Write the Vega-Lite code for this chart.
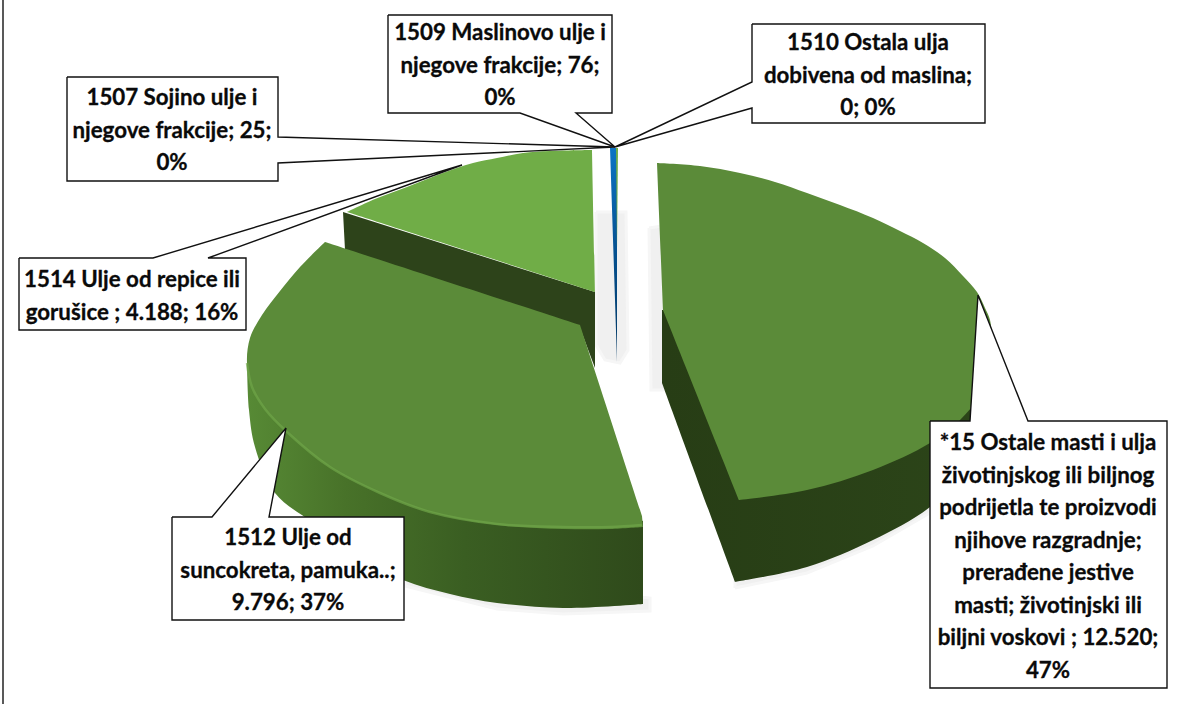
{
"$schema":"https://vega.github.io/schema/vega-lite/v6.json",
"width":1204,"height":704,"padding":0,
"autosize":{"type":"none"},
"background":"white",
"config":{"view":{"stroke":null},"axis":{"grid":false}},
"datasets":{
"outlines":[
{"s":"frame","n":1,"x":3,"y":0},{"s":"frame","n":2,"x":3,"y":704},

{"s":"shadow","n":1,"x":596,"y":212},{"s":"shadow","n":2,"x":626,"y":212},{"s":"shadow","n":3,"x":628,"y":350},{"s":"shadow","n":4,"x":620,"y":363},{"s":"shadow","n":5,"x":605,"y":360},{"s":"shadow","n":6,"x":596,"y":345},
{"s":"shadow","n":7,"x":596,"y":212},
{"s":"shadow2","n":1,"x":649,"y":228},{"s":"shadow2","n":2,"x":662,"y":226},{"s":"shadow2","n":3,"x":665,"y":390},{"s":"shadow2","n":4,"x":651,"y":390},{"s":"shadow2","n":5,"x":649,"y":228},
{"s":"shadow3","n":1,"x":735,"y":588},{"s":"shadow3","n":2,"x":807,"y":573},{"s":"shadow3","n":3,"x":873,"y":546},{"s":"shadow3","n":4,"x":930,"y":513},{"s":"shadow3","n":5,"x":930,"y":500},{"s":"shadow3","n":6,"x":735,"y":570},{"s":"shadow3","n":7,"x":735,"y":588},
{"s":"shadow4","n":1,"x":405,"y":586},{"s":"shadow4","n":2,"x":497,"y":609},{"s":"shadow4","n":3,"x":563,"y":614},{"s":"shadow4","n":4,"x":650,"y":611},{"s":"shadow4","n":5,"x":650,"y":598},{"s":"shadow4","n":6,"x":405,"y":570},{"s":"shadow4","n":7,"x":405,"y":586},

{"s":"smallSide","n":1,"x":343,"y":212},{"s":"smallSide","n":2,"x":345,"y":250},{"s":"smallSide","n":3,"x":580,"y":328},{"s":"smallSide","n":4,"x":595,"y":368},{"s":"smallSide","n":5,"x":595,"y":292},{"s":"smallSide","n":6,"x":343,"y":212},

{"s":"smallTop","n":1,"x":592,"y":150},{"s":"smallTop","n":2,"x":592,"y":150},{"s":"smallTop","n":3,"x":550,"y":151},{"s":"smallTop","n":4,"x":523,"y":153},{"s":"smallTop","n":5,"x":497,"y":158},{"s":"smallTop","n":6,"x":473,"y":163},{"s":"smallTop","n":7,"x":440,"y":174},{"s":"smallTop","n":8,"x":407,"y":187},{"s":"smallTop","n":9,"x":375,"y":199},{"s":"smallTop","n":10,"x":347,"y":212},{"s":"smallTop","n":11,"x":347,"y":212},{"s":"smallTop","n":12,"x":595,"y":292},{"s":"smallTop","n":13,"x":595,"y":292},{"s":"smallTop","n":14,"x":592,"y":150},{"s":"smallTop","n":15,"x":592,"y":150},

{"s":"sliver","n":1,"x":610,"y":148},{"s":"sliver","n":2,"x":617,"y":148},{"s":"sliver","n":3,"x":617,"y":362},{"s":"sliver","n":4,"x":615,"y":300},{"s":"sliver","n":5,"x":610,"y":148},
{"s":"sliverGreen","n":1,"x":616,"y":148},{"s":"sliverGreen","n":2,"x":618,"y":148},{"s":"sliverGreen","n":3,"x":617,"y":250},{"s":"sliverGreen","n":4,"x":616,"y":148},

{"s":"midSide","n":1,"x":247,"y":360},{"s":"midSide","n":2,"x":247,"y":360},{"s":"midSide","n":3,"x":249,"y":410},{"s":"midSide","n":4,"x":255,"y":447},{"s":"midSide","n":5,"x":275,"y":493},{"s":"midSide","n":6,"x":313,"y":523},{"s":"midSide","n":7,"x":355,"y":555},{"s":"midSide","n":8,"x":403,"y":580},{"s":"midSide","n":9,"x":450,"y":594},{"s":"midSide","n":10,"x":497,"y":603},{"s":"midSide","n":11,"x":563,"y":608},{"s":"midSide","n":12,"x":643,"y":604},{"s":"midSide","n":13,"x":643,"y":604},{"s":"midSide","n":14,"x":643,"y":521},{"s":"midSide","n":15,"x":643,"y":521},{"s":"midSide","n":16,"x":247,"y":360},{"s":"midSide","n":17,"x":247,"y":360},

{"s":"midTop","n":1,"x":325,"y":242},{"s":"midTop","n":2,"x":325,"y":242},{"s":"midTop","n":3,"x":300,"y":267},{"s":"midTop","n":4,"x":280,"y":291},{"s":"midTop","n":5,"x":262,"y":315},{"s":"midTop","n":6,"x":250,"y":338},{"s":"midTop","n":7,"x":247,"y":363},{"s":"midTop","n":8,"x":252,"y":387},{"s":"midTop","n":9,"x":265,"y":409},{"s":"midTop","n":10,"x":287,"y":432},{"s":"midTop","n":11,"x":330,"y":467},{"s":"midTop","n":12,"x":380,"y":493},{"s":"midTop","n":13,"x":430,"y":512},{"s":"midTop","n":14,"x":497,"y":525},{"s":"midTop","n":15,"x":563,"y":529},{"s":"midTop","n":16,"x":610,"y":529},{"s":"midTop","n":17,"x":643,"y":527},{"s":"midTop","n":18,"x":643,"y":527},{"s":"midTop","n":19,"x":642,"y":516},{"s":"midTop","n":20,"x":642,"y":516},{"s":"midTop","n":21,"x":580,"y":325},{"s":"midTop","n":22,"x":580,"y":325},{"s":"midTop","n":23,"x":325,"y":242},{"s":"midTop","n":24,"x":325,"y":242},

{"s":"midEdge","n":1,"x":247,"y":363},{"s":"midEdge","n":2,"x":252,"y":387},{"s":"midEdge","n":3,"x":265,"y":409},{"s":"midEdge","n":4,"x":287,"y":432},{"s":"midEdge","n":5,"x":330,"y":467},{"s":"midEdge","n":6,"x":380,"y":493},{"s":"midEdge","n":7,"x":430,"y":512},{"s":"midEdge","n":8,"x":497,"y":524},{"s":"midEdge","n":9,"x":563,"y":527},{"s":"midEdge","n":10,"x":610,"y":527},{"s":"midEdge","n":11,"x":642,"y":525},

{"s":"rightSide","n":1,"x":662,"y":310},{"s":"rightSide","n":2,"x":662,"y":310},{"s":"rightSide","n":3,"x":662,"y":383},{"s":"rightSide","n":4,"x":662,"y":383},{"s":"rightSide","n":5,"x":735,"y":582},{"s":"rightSide","n":6,"x":735,"y":582},{"s":"rightSide","n":7,"x":807,"y":567},{"s":"rightSide","n":8,"x":873,"y":540},{"s":"rightSide","n":9,"x":930,"y":507},{"s":"rightSide","n":10,"x":975,"y":460},{"s":"rightSide","n":11,"x":992,"y":420},{"s":"rightSide","n":12,"x":992,"y":345},{"s":"rightSide","n":13,"x":992,"y":345},{"s":"rightSide","n":14,"x":662,"y":310},{"s":"rightSide","n":15,"x":662,"y":310},

{"s":"rightTop","n":1,"x":657,"y":163},{"s":"rightTop","n":2,"x":657,"y":163},{"s":"rightTop","n":3,"x":700,"y":166},{"s":"rightTop","n":4,"x":740,"y":173},{"s":"rightTop","n":5,"x":775,"y":182},{"s":"rightTop","n":6,"x":807,"y":193},{"s":"rightTop","n":7,"x":840,"y":205},{"s":"rightTop","n":8,"x":873,"y":218},{"s":"rightTop","n":9,"x":900,"y":231},{"s":"rightTop","n":10,"x":923,"y":243},{"s":"rightTop","n":11,"x":945,"y":258},{"s":"rightTop","n":12,"x":963,"y":276},{"s":"rightTop","n":13,"x":977,"y":292},{"s":"rightTop","n":14,"x":985,"y":308},{"s":"rightTop","n":15,"x":990,"y":320},{"s":"rightTop","n":16,"x":992,"y":345},{"s":"rightTop","n":17,"x":990,"y":370},{"s":"rightTop","n":18,"x":980,"y":395},{"s":"rightTop","n":19,"x":960,"y":420},{"s":"rightTop","n":20,"x":930,"y":443},{"s":"rightTop","n":21,"x":873,"y":470},{"s":"rightTop","n":22,"x":807,"y":490},{"s":"rightTop","n":23,"x":739,"y":500},{"s":"rightTop","n":24,"x":739,"y":500},{"s":"rightTop","n":25,"x":663,"y":310},{"s":"rightTop","n":26,"x":663,"y":310},{"s":"rightTop","n":27,"x":657,"y":163},{"s":"rightTop","n":28,"x":657,"y":163},

{"s":"c1507","n":1,"x":67,"y":77},{"s":"c1507","n":2,"x":278,"y":77},{"s":"c1507","n":3,"x":278,"y":137},{"s":"c1507","n":4,"x":615,"y":147},{"s":"c1507","n":5,"x":278,"y":163},{"s":"c1507","n":6,"x":278,"y":181},{"s":"c1507","n":7,"x":67,"y":181},{"s":"c1507","n":8,"x":67,"y":77},
{"s":"c1514","n":1,"x":19,"y":258},{"s":"c1514","n":2,"x":153,"y":258},{"s":"c1514","n":3,"x":462,"y":165},{"s":"c1514","n":4,"x":208,"y":258},{"s":"c1514","n":5,"x":246,"y":258},{"s":"c1514","n":6,"x":246,"y":330},{"s":"c1514","n":7,"x":19,"y":330},{"s":"c1514","n":8,"x":19,"y":258},
{"s":"c1509","n":1,"x":388,"y":15},{"s":"c1509","n":2,"x":612,"y":15},{"s":"c1509","n":3,"x":612,"y":113},{"s":"c1509","n":4,"x":576,"y":113},{"s":"c1509","n":5,"x":615,"y":147},{"s":"c1509","n":6,"x":520,"y":113},{"s":"c1509","n":7,"x":388,"y":113},{"s":"c1509","n":8,"x":388,"y":15},
{"s":"c1510","n":1,"x":752,"y":24},{"s":"c1510","n":2,"x":985,"y":24},{"s":"c1510","n":3,"x":985,"y":123},{"s":"c1510","n":4,"x":752,"y":123},{"s":"c1510","n":5,"x":752,"y":108},{"s":"c1510","n":6,"x":615,"y":147},{"s":"c1510","n":7,"x":752,"y":82},{"s":"c1510","n":8,"x":752,"y":24},
{"s":"c1512","n":1,"x":172,"y":517},{"s":"c1512","n":2,"x":212,"y":517},{"s":"c1512","n":3,"x":286,"y":428},{"s":"c1512","n":4,"x":269,"y":517},{"s":"c1512","n":5,"x":404,"y":517},{"s":"c1512","n":6,"x":404,"y":620},{"s":"c1512","n":7,"x":172,"y":620},{"s":"c1512","n":8,"x":172,"y":517},
{"s":"c15","n":1,"x":930,"y":421},{"s":"c15","n":2,"x":970,"y":421},{"s":"c15","n":3,"x":978,"y":295},{"s":"c15","n":4,"x":1028,"y":421},{"s":"c15","n":5,"x":1167,"y":421},{"s":"c15","n":6,"x":1167,"y":688},{"s":"c15","n":7,"x":930,"y":688},{"s":"c15","n":8,"x":930,"y":421}
],
"labels":[
{"kategorija":"1509 Maslinovo ulje i njegove frakcije","vrijednost":76,"udio":0,"tekst":"1509 Maslinovo ulje i\nnjegove frakcije; 76;\n0%","x":500,"y":33},
{"kategorija":"1510 Ostala ulja dobivena od maslina","vrijednost":0,"udio":0,"tekst":"1510 Ostala ulja\ndobivena od maslina;\n0; 0%","x":868,"y":43},
{"kategorija":"1507 Sojino ulje i njegove frakcije","vrijednost":25,"udio":0,"tekst":"1507 Sojino ulje i\nnjegove frakcije; 25;\n0%","x":172,"y":98},
{"kategorija":"1514 Ulje od repice ili gorušice","vrijednost":4188,"udio":16,"tekst":"1514 Ulje od repice ili\ngorušice ; 4.188; 16%","x":132,"y":280},
{"kategorija":"1512 Ulje od suncokreta, pamuka..","vrijednost":9796,"udio":37,"tekst":"1512 Ulje od\nsuncokreta, pamuka..;\n9.796; 37%","x":288,"y":538},
{"kategorija":"*15 Ostale masti i ulja","vrijednost":12520,"udio":47,"tekst":"*15 Ostale masti i ulja\nživotinjskog ili biljnog\npodrijetla te proizvodi\nnjihove razgradnje;\nprerađene jestive\nmasti; životinjski ili\nbiljni voskovi  ; 12.520;\n47%","x":1048,"y":443}
]
},
"encoding":{
"x":{"field":"x","type":"quantitative","scale":{"domain":[0,1204],"nice":false,"zero":false},"axis":null},
"y":{"field":"y","type":"quantitative","scale":{"domain":[704,0],"nice":false,"zero":false},"axis":null}
},
"layer":[
{"data":{"name":"outlines"},"transform":[{"filter":"datum.s=='frame'"}],"mark":{"type":"line","stroke":"#222222","strokeWidth":1.5},"encoding":{"order":{"field":"n","type":"quantitative"}}},
{"data":{"name":"outlines"},"transform":[{"filter":"indexof(['shadow','shadow2','shadow3','shadow4'],datum.s)>=0"}],"mark":{"type":"line","fill":"#f0f0f0","stroke":"#f6f6f6","strokeWidth":3},"encoding":{"order":{"field":"n","type":"quantitative"},"detail":{"field":"s"}}},
{"data":{"name":"outlines"},"transform":[{"filter":"datum.s=='smallSide'"}],"mark":{"type":"line","fill":"#2d431a","strokeWidth":0},"encoding":{"order":{"field":"n","type":"quantitative"}}},
{"data":{"name":"outlines"},"transform":[{"filter":"datum.s=='smallTop'"}],"mark":{"type":"line","interpolate":"catmull-rom","fill":"#70ad47","strokeWidth":0},"encoding":{"order":{"field":"n","type":"quantitative"}}},
{"data":{"name":"outlines"},"transform":[{"filter":"datum.s=='sliver'"}],"mark":{"type":"line","strokeWidth":0,"fill":{"gradient":"linear","x1":0,"y1":0,"x2":0,"y2":1,"stops":[{"offset":0,"color":"#0d74c4"},{"offset":0.5,"color":"#05508f"},{"offset":1,"color":"#03365f"}]}},"encoding":{"order":{"field":"n","type":"quantitative"}}},
{"data":{"name":"outlines"},"transform":[{"filter":"datum.s=='sliverGreen'"}],"mark":{"type":"line","fill":"#70ad47","strokeWidth":0},"encoding":{"order":{"field":"n","type":"quantitative"}}},
{"data":{"name":"outlines"},"transform":[{"filter":"datum.s=='midSide'"}],"mark":{"type":"line","interpolate":"catmull-rom","strokeWidth":0,"fill":{"gradient":"linear","x1":0,"y1":0,"x2":1,"y2":0,"stops":[{"offset":0,"color":"#578a35"},{"offset":0.25,"color":"#487229"},{"offset":0.55,"color":"#3a5e22"},{"offset":1,"color":"#2f4a1b"}]}},"encoding":{"order":{"field":"n","type":"quantitative"}}},
{"data":{"name":"outlines"},"transform":[{"filter":"datum.s=='midTop'"}],"mark":{"type":"line","interpolate":"catmull-rom","fill":"#5b8b39","strokeWidth":0},"encoding":{"order":{"field":"n","type":"quantitative"}}},
{"data":{"name":"outlines"},"transform":[{"filter":"datum.s=='midEdge'"}],"mark":{"type":"line","interpolate":"catmull-rom","stroke":"#6fa548","strokeWidth":2.5,"opacity":0.7},"encoding":{"order":{"field":"n","type":"quantitative"}}},
{"data":{"name":"outlines"},"transform":[{"filter":"datum.s=='rightSide'"}],"mark":{"type":"line","interpolate":"catmull-rom","strokeWidth":0,"fill":{"gradient":"linear","x1":0,"y1":0,"x2":1,"y2":0,"stops":[{"offset":0,"color":"#273d15"},{"offset":1,"color":"#2c4519"}]}},"encoding":{"order":{"field":"n","type":"quantitative"}}},
{"data":{"name":"outlines"},"transform":[{"filter":"datum.s=='rightTop'"}],"mark":{"type":"line","interpolate":"catmull-rom","fill":"#5b8b39","strokeWidth":0},"encoding":{"order":{"field":"n","type":"quantitative"}}},
{"data":{"name":"outlines"},"transform":[{"filter":"indexof(['c1507','c1514','c1509','c1510','c1512','c15'],datum.s)>=0"}],"mark":{"type":"line","fill":"#ffffff","stroke":"#111111","strokeWidth":1.4,"strokeJoin":"miter"},"encoding":{"order":{"field":"n","type":"quantitative"},"detail":{"field":"s"}}},
{"data":{"name":"labels"},"mark":{"type":"text","font":"Lato","fontWeight":"bold","fontSize":22.3,"lineHeight":32.5,"lineBreak":"\n","align":"center","baseline":"middle","color":"#0a0a0a","stroke":"#0a0a0a","strokeWidth":0.3},"encoding":{"text":{"field":"tekst"}}}
]
}
